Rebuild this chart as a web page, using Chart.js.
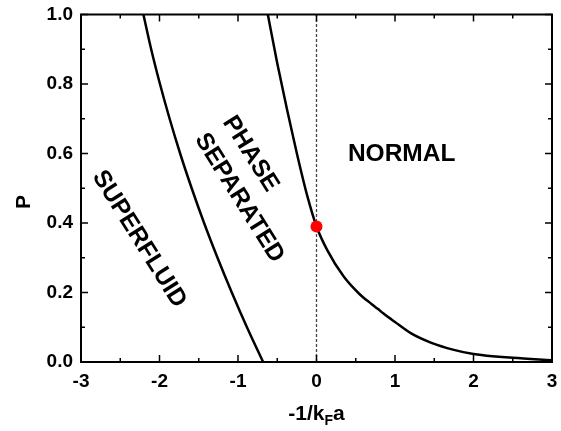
<!DOCTYPE html>
<html>
<head>
<meta charset="utf-8">
<script src="https://cdn.jsdelivr.net/npm/chart.js@4.4.0/dist/chart.umd.min.js"></script>
<style>
  html, body { margin: 0; padding: 0; background: #fff; }
  #wrap { width: 561px; height: 431px; }
</style>
</head>
<body>
<div id="wrap"><canvas id="c" width="561" height="431"></canvas></div>
<script>
// Axis ticks
const xTicks = [-3, -2, -1, 0, 1, 2, 3];
const yTicks = [0, 0.2, 0.4, 0.6, 0.8, 1.0];

// Superfluid / phase-separated boundary
const sfX = [-2.205, -2.106, -1.994, -1.871, -1.737, -1.59, -1.432, -1.261, -1.079, -0.886, -0.68];
const sfP = [1.0, 0.9, 0.8, 0.7, 0.6, 0.5, 0.4, 0.3, 0.2, 0.1, 0.0];

// Phase-separated / normal boundary
const nX = [-0.62, -0.5, -0.374, -0.25, -0.12, 0.0, 0.137, 0.349, 0.55, 0.7, 0.78, 0.85, 1.0, 1.2, 1.455, 1.75, 2.0, 2.5, 3.0];
const nP = [1.0, 0.86, 0.725, 0.6, 0.48, 0.39, 0.322, 0.245, 0.195, 0.167, 0.153, 0.14, 0.115, 0.083, 0.056, 0.035, 0.023, 0.012, 0.005];

// Critical point on the unitarity line
const critX = [0];
const critP = [0.39];

// Unitarity line 1/(kF a) = 0
const unitX = [0, 0];
const unitP = [0, 1];

// Region names
const regionNames = ['SUPERFLUID', 'PHASE', 'SEPARATED', 'NORMAL'];

const pts = (xs, ys) => xs.map((x, i) => ({ x, y: ys[i] }));
const FONT = '"Liberation Sans", Arial, Helvetica, sans-serif';

// Box frame with inward ticks on all four sides
const framePlugin = {
  id: 'frame',
  afterDatasetsDraw(chart) {
    const { ctx, chartArea: a, scales: { x, y } } = chart;
    ctx.save();
    ctx.strokeStyle = '#000';
    ctx.lineWidth = 2;
    ctx.strokeRect(a.left, a.top, a.right - a.left, a.bottom - a.top);
    ctx.lineWidth = 1.5;
    ctx.beginPath();
    for (let k = -6; k <= 6; k++) {
      const v = k / 2;
      const px = x.getPixelForValue(v);
      const len = k % 2 === 0 ? 7 : 4;
      ctx.moveTo(px, a.bottom); ctx.lineTo(px, a.bottom - len);
      ctx.moveTo(px, a.top); ctx.lineTo(px, a.top + len);
    }
    for (let k = 0; k <= 10; k++) {
      const v = k / 10;
      const py = y.getPixelForValue(v);
      const len = k % 2 === 0 ? 7 : 4;
      ctx.moveTo(a.left, py); ctx.lineTo(a.left + len, py);
      ctx.moveTo(a.right, py); ctx.lineTo(a.right - len, py);
    }
    ctx.stroke();
    ctx.restore();
  },
  afterDraw(chart) {
    const { ctx, chartArea: a, scales: { x, y } } = chart;
    ctx.save();
    ctx.fillStyle = '#000';
    ctx.textAlign = 'center';
    ctx.textBaseline = 'middle';

    const rotated = (text, vx, vy, deg, size) => {
      ctx.save();
      ctx.font = 'bold ' + size + 'px ' + FONT;
      ctx.translate(x.getPixelForValue(vx), y.getPixelForValue(vy));
      ctx.rotate(deg * Math.PI / 180);
      ctx.fillText(text, 0, 0);
      ctx.restore();
    };
    rotated(regionNames[0], -2.26, 0.354, 58, 24.5);
    rotated(regionNames[1], -0.842, 0.599, 58, 24.5);
    rotated(regionNames[2], -0.983, 0.472, 58, 24.5);
    rotated(regionNames[3], 1.085, 0.599, 0, 24.5);

    // y-axis title
    ctx.save();
    ctx.font = 'bold 21px ' + FONT;
    ctx.translate(24, 202);
    ctx.rotate(-Math.PI / 2);
    ctx.fillText('P', 0, 0);
    ctx.restore();

    // x-axis title: -1/k_F a
    const main = 'bold 21px ' + FONT, sub = 'bold 14px ' + FONT;
    ctx.textAlign = 'left';
    ctx.textBaseline = 'alphabetic';
    ctx.font = main;
    const w1 = ctx.measureText('-1/k').width;
    const w3 = ctx.measureText('a').width;
    ctx.font = sub;
    const w2 = ctx.measureText('F').width;
    let cx = (a.left + a.right) / 2 - (w1 + w2 + w3) / 2;
    const base = 420;
    ctx.font = main; ctx.fillText('-1/k', cx, base); cx += w1;
    ctx.font = sub; ctx.fillText('F', cx, base + 5); cx += w2;
    ctx.font = main; ctx.fillText('a', cx, base);
    ctx.restore();
  }
};

new Chart(document.getElementById('c'), {
  type: 'line',
  data: {
    datasets: [
      {
        data: pts(critX, critP), showLine: false, order: 0,
        pointRadius: 6, pointBackgroundColor: '#ff0000', pointBorderWidth: 0, pointBorderColor: '#ff0000'
      },
      {
        data: pts(sfX, sfP), order: 1, borderColor: '#000', borderWidth: 2.5,
        pointRadius: 0, cubicInterpolationMode: 'monotone', fill: false
      },
      {
        data: pts(nX, nP), order: 1, borderColor: '#000', borderWidth: 2.5,
        pointRadius: 0, cubicInterpolationMode: 'monotone', fill: false
      },
      {
        data: pts(unitX, unitP), order: 2, borderColor: '#444', borderWidth: 1.3,
        borderDash: [3, 2], pointRadius: 0, fill: false
      }
    ]
  },
  options: {
    responsive: false,
    animation: false,
    events: [],
    layout: { padding: { top: 14.5, right: 9, left: 0, bottom: 0 } },
    plugins: { legend: { display: false }, tooltip: { enabled: false } },
    scales: {
      x: {
        type: 'linear', min: -3, max: 3,
        afterBuildTicks: s => { s.ticks = xTicks.map(v => ({ value: v })); },
        afterFit: s => { s.height = 69; s.paddingLeft = 0; s.paddingRight = 0; },
        grid: { display: false, drawTicks: false },
        border: { display: false },
        ticks: { padding: 8, color: '#000', font: { family: FONT, size: 19, weight: 'bold' },
                 maxRotation: 0, callback: v => String(v) }
      },
      y: {
        type: 'linear', min: 0, max: 1,
        afterBuildTicks: s => { s.ticks = yTicks.map(v => ({ value: v })); },
        afterFit: s => { s.width = 81; s.paddingTop = 0; s.paddingBottom = 0; },
        grid: { display: false, drawTicks: false },
        border: { display: false },
        ticks: { padding: 8, color: '#000', font: { family: FONT, size: 19, weight: 'bold' },
                 callback: v => v.toFixed(1) }
      }
    }
  },
  plugins: [framePlugin]
});
</script>
</body>
</html>
